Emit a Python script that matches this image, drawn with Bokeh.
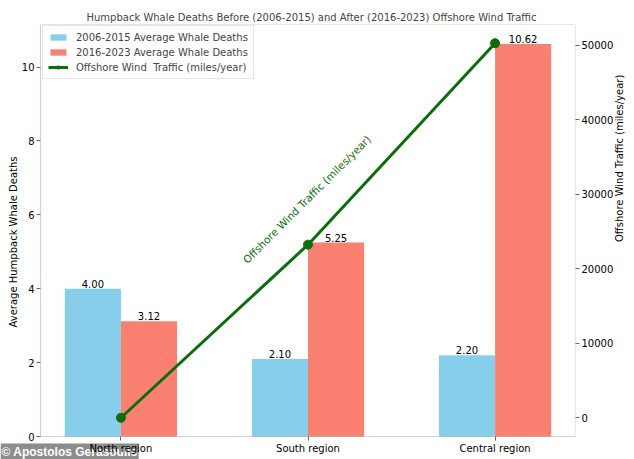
import math
import numpy as np
from bokeh.plotting import figure
from bokeh.models import (Range1d, LinearAxis, FixedTicker, Legend, LegendItem,
                          Label, ColumnDataSource, BoxAnnotation)
from bokeh.core.properties import value
from bokeh.embed import file_html
from bokeh.resources import INLINE

# ---- data ----
regions = ["North region", "South region", "Central region"]
deaths_2006_2015 = [4.00, 2.10, 2.20]
deaths_2016_2023 = [3.12, 5.25, 10.62]
wind_traffic = [0, 23250, 50300]
left_ticks = [0, 2, 4, 6, 8, 10]
right_ticks = [0, 10000, 20000, 30000, 40000, 50000]

FONT = "DejaVu Sans"
GREEN = "#0a6e0a"
SPINE = "#666666"

xi = np.arange(len(regions))
bw = 0.3

# axes-box limits (as matplotlib would autoscale) and the extra room kept
# around it for the tick labels drawn inside the plotting area
X_LO, X_HI = -0.43, 2.43
Y_HI = 11.151
T_LO, T_HI = -2515, 52815
x_extra = (X_HI - X_LO) * 40 / 535
y_extra = Y_HI * 23 / 412
t_extra = (T_HI - T_LO) * 23 / 412

p = figure(width=634, height=459, output_backend="svg", toolbar_location=None,
           x_range=Range1d(X_LO - x_extra, X_HI),
           y_range=Range1d(-y_extra, Y_HI),
           min_border_left=0, min_border_right=59, min_border_top=24,
           min_border_bottom=0)
p.extra_y_ranges = {"traffic": Range1d(T_LO - t_extra, T_HI)}

p.title.text = "Humpback Whale Deaths Before (2006-2015) and After (2016-2023) Offshore Wind Traffic"
p.title.align = "left"
p.title.offset = 86
p.title.text_font = FONT
p.title.text_font_size = "10px"
p.title.text_font_style = "normal"
p.title.standoff = 3

p.xgrid.visible = False
p.ygrid.visible = False
p.outline_line_color = None

# watermark (drawn beneath the axis labels)
wm = Label(x=0, y=0, x_units="screen", y_units="screen",
           text="\u00a9 Apostolos Gerasoulis", text_font="Liberation Sans",
           text_font_size="12px", text_font_style="bold", text_color="white",
           background_fill_color="#8c8c8c", background_fill_alpha=1.0,
           text_align="left", text_baseline="bottom", padding=1)
wm.level = "underlay"
p.add_layout(wm)

# bars
src_a = ColumnDataSource(dict(x=xi - bw / 2, top=deaths_2006_2015,
                              lbl=[f"{v:.2f}" for v in deaths_2006_2015]))
src_b = ColumnDataSource(dict(x=xi + bw / 2, top=deaths_2016_2023,
                              lbl=[f"{v:.2f}" for v in deaths_2016_2023]))
ra = p.vbar(x="x", top="top", width=bw, bottom=0, source=src_a,
            fill_color="#87CEEB", line_color=None)
rb = p.vbar(x="x", top="top", width=bw, bottom=0, source=src_b,
            fill_color="#FA8072", line_color=None)

for s in (src_a, src_b):
    p.text(x="x", y="top", text="lbl", source=s, text_align="center",
           text_baseline="bottom", y_offset=-1, text_font=value(FONT),
           text_font_size="10px", text_color="black")

# line on secondary axis
rl = p.line(xi, wind_traffic, y_range_name="traffic", line_color=GREEN,
            line_width=3)
rs = p.scatter(xi, wind_traffic, y_range_name="traffic", marker="circle",
               size=9, fill_color=GREEN, line_color=GREEN)

p.text(x=[xi[1]], y=[29500], text=["Offshore Wind  Traffic (miles/year)"],
       y_range_name="traffic", angle=45, angle_units="deg",
       text_align="center", text_baseline="middle", text_font=value(FONT),
       text_font_size="10.5px", text_color=GREEN)

# spines (axes box)
p.add_layout(BoxAnnotation(left=X_LO, bottom=0, fill_color=None,
                           line_color=SPINE, line_width=1.2))

# axes
xa = p.xaxis[0]
xa.ticker = FixedTicker(ticks=list(xi))
xa.major_label_overrides = {int(i): r for i, r in zip(xi, regions)}
xa.fixed_location = 0
ya = p.yaxis[0]
ya.ticker = FixedTicker(ticks=left_ticks)
ya.axis_label = "Average Humpback Whale Deaths"
ya.fixed_location = X_LO

ra2 = LinearAxis(y_range_name="traffic", ticker=FixedTicker(ticks=right_ticks),
                 axis_label="Offshore Wind Traffic (miles/year)")
p.add_layout(ra2, "right")
ra2.axis_label_orientation = math.pi / 2
ra2.axis_label_text_align = "center"
ra2.axis_label_text_baseline = "middle"

for ax in (xa, ya, ra2):
    ax.axis_line_color = None
    ax.major_tick_line_color = SPINE
    ax.minor_tick_line_color = None
    ax.major_tick_out = 4
    ax.major_tick_in = 0
    ax.major_label_standoff = 2
    ax.axis_label_standoff = 3
    ax.major_label_text_font = FONT
    ax.major_label_text_font_size = "10px"
    ax.major_label_text_color = "black"
    ax.axis_label_text_font = FONT
    ax.axis_label_text_font_size = "10px"
    ax.axis_label_text_font_style = "normal"
    ax.axis_label_text_color = "black"
ya.axis_label_standoff = 0

legend = Legend(items=[
    LegendItem(label="2006-2015 Average Whale Deaths", renderers=[ra]),
    LegendItem(label="2016-2023 Average Whale Deaths", renderers=[rb]),
    LegendItem(label="Offshore Wind  Traffic (miles/year)", renderers=[rl, rs]),
], location=(42, 380))
legend.margin = 0
legend.padding = 5
legend.spacing = 3
legend.label_height = 12
legend.glyph_height = 8
legend.glyph_width = 20
legend.label_standoff = 8
legend.label_text_font = FONT
legend.label_text_font_size = "10px"
legend.border_line_color = "#cccccc"
legend.background_fill_alpha = 0.8
p.add_layout(legend)

open("out.html", "w").write(file_html(p, INLINE))
